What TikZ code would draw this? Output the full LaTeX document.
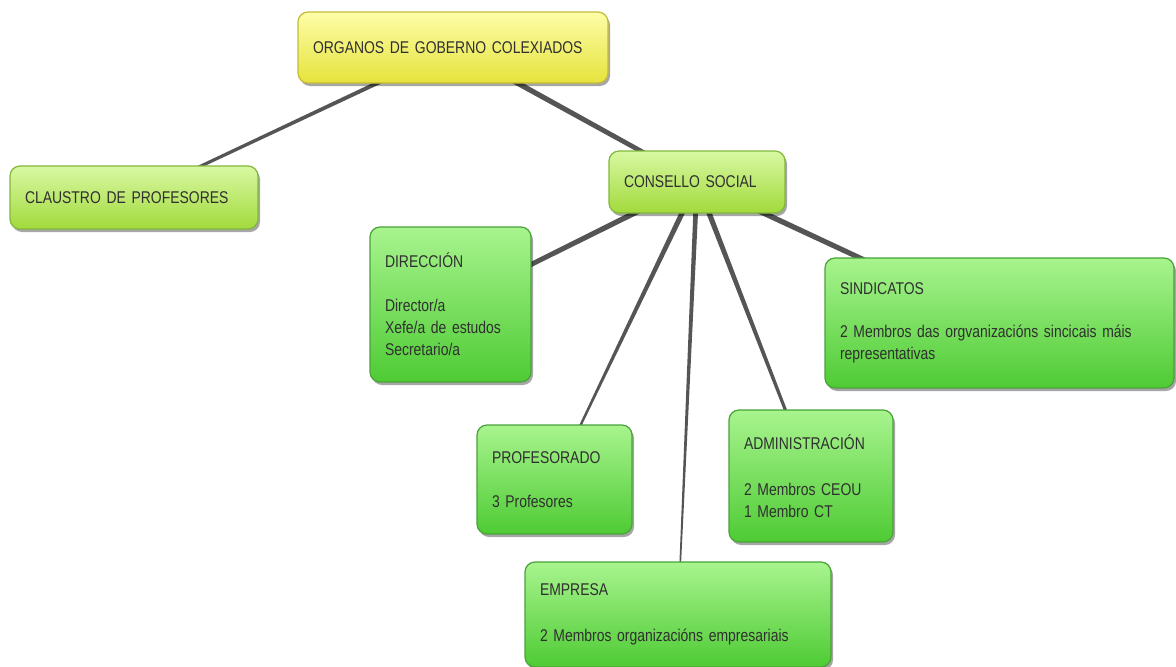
\documentclass[tikz,border=0pt]{standalone}
\usepackage{fontspec}
\setmainfont[FakeStretch=0.82,WordSpace=0.85]{Liberation Sans}
\usetikzlibrary{calc,shadows,backgrounds}
\definecolor{txt}{HTML}{303030}
\definecolor{edgecol}{HTML}{555555}
\definecolor{yTop}{HTML}{FDFDA8}
\definecolor{yBot}{HTML}{E6E33C}
\definecolor{yBrd}{HTML}{C4BC38}
\definecolor{lTop}{HTML}{D8F8A2}
\definecolor{lBot}{HTML}{A2DA3C}
\definecolor{lBrd}{HTML}{82B83C}
\definecolor{gTop}{HTML}{A8F48E}
\definecolor{gBot}{HTML}{4ECB34}
\definecolor{gBrd}{HTML}{4AA23A}
\newcommand{\conntaper}[4]{\fill[edgecol] ($(#1.center)!#3!90:(#2.center)$) -- ($(#1.center)!#3!-90:(#2.center)$) -- ($(#2.center)!#4!90:(#1.center)$) -- ($(#2.center)!#4!-90:(#1.center)$) -- cycle;}
\tikzset{
  box/.style={rounded corners=10pt, draw, line width=1.2pt, inner xsep=15pt, inner ysep=4pt,
    align=left, text=txt, font=\fontsize{17}{22}\selectfont,
    drop shadow={shadow xshift=2pt, shadow yshift=-3pt, opacity=0.35, fill=black}},
  ybox/.style={box, draw=yBrd, top color=yTop, bottom color=yBot},
  lbox/.style={box, draw=lBrd, top color=lTop, bottom color=lBot},
  gbox/.style={box, draw=gBrd, top color=gTop, bottom color=gBot},
}
\begin{document}
\hyphenpenalty=10000
\begin{tikzpicture}[x=1pt,y=-1pt]
\useasboundingbox (0,0) rectangle (1176,667);
\node[ybox, text width=280pt, minimum height=71pt] (org) at (453,47.5) {ORGANOS DE GOBERNO COLEXIADOS};
\node[lbox, text width=218pt, minimum height=63pt] (cla) at (134,197.5) {CLAUSTRO DE PROFESORES};
\node[lbox, text width=146pt, minimum height=62pt] (cs) at (697,182) {CONSELLO SOCIAL};
\node[gbox, text width=131pt, minimum height=155pt] (dir) at (450.5,304.5) {DIRECCIÓN\\[22pt]Director/a\\Xefe/a de estudos\\Secretario/a};
\node[gbox, text width=319pt, minimum height=130pt] (sin) at (999.5,323) {SINDICATOS\\[21pt]2 Membros das orgvanizacións sincicais máis\\representativas};
\node[gbox, text width=125pt, minimum height=109pt] (pro) at (554.5,479.5) {PROFESORADO\\[22pt]3 Profesores};
\node[gbox, text width=134pt, minimum height=132pt] (adm) at (811,476) {ADMINISTRACIÓN\\[24pt]2 Membros CEOU\\1 Membro CT};
\node[gbox, text width=276pt, minimum height=105pt] (emp) at (678,614.5) {EMPRESA\\[24pt]2 Membros organizacións empresariais};
\begin{scope}[on background layer]
\conntaper{org}{cla}{2.2pt}{1.4pt}
\conntaper{org}{cs}{2.8pt}{2.2pt}
\conntaper{cs}{dir}{2.8pt}{2.3pt}
\conntaper{cs}{pro}{2.8pt}{0.8pt}
\conntaper{cs}{emp}{2.5pt}{0.6pt}
\conntaper{cs}{adm}{2.8pt}{1.2pt}
\conntaper{cs}{sin}{2.8pt}{2.3pt}
\end{scope}
\end{tikzpicture}
\end{document}
